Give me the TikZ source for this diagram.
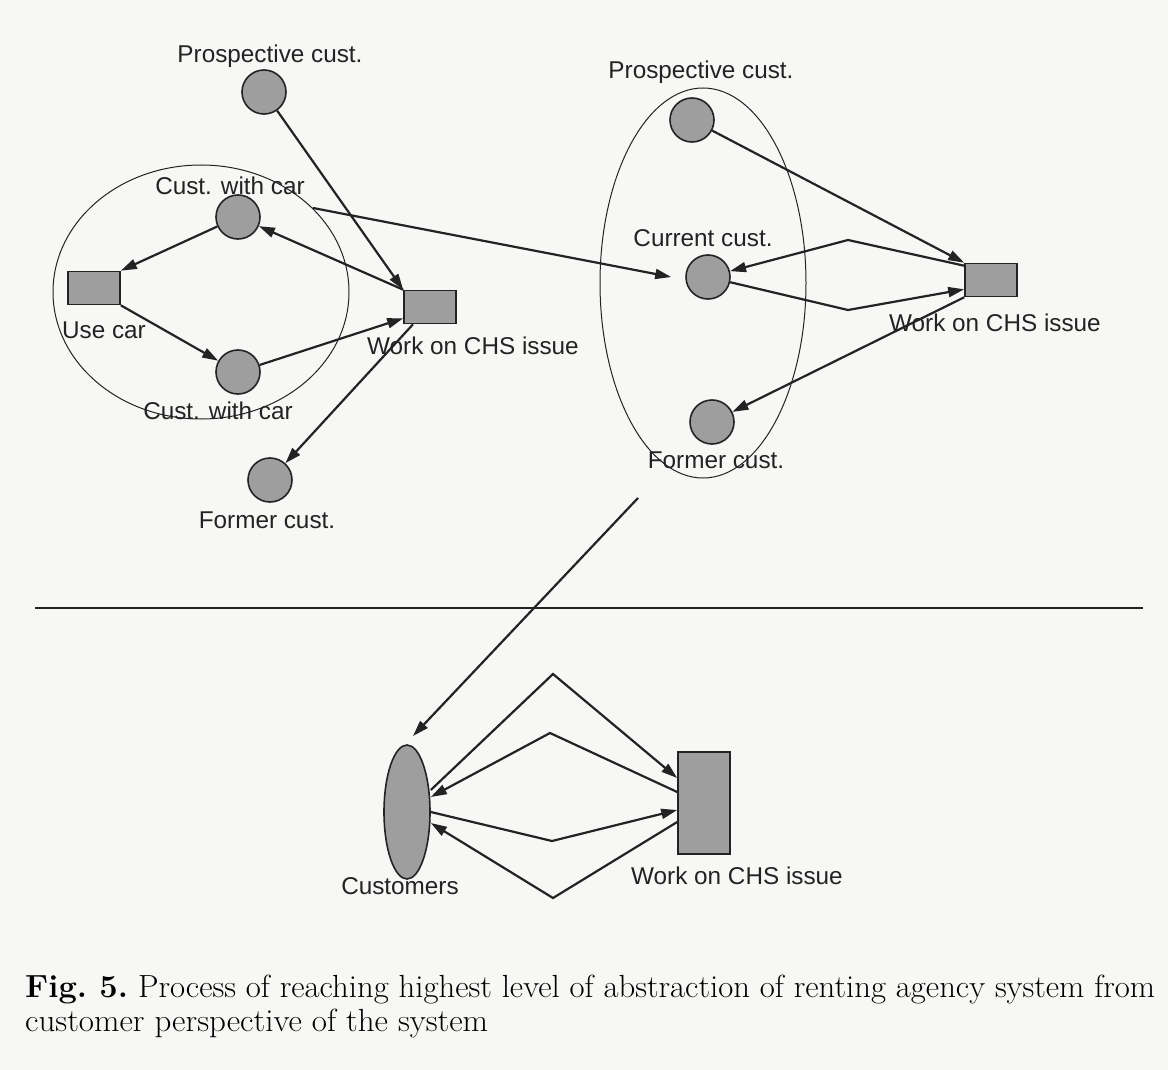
\documentclass[tikz,border=0pt]{standalone}
\usepackage{fontspec}
\newfontfamily\labfont{Liberation Sans}
\usetikzlibrary{arrows.meta,shapes.geometric}
\definecolor{paper}{RGB}{247,247,245}
\definecolor{fillg}{RGB}{158,158,158}
\definecolor{ink}{RGB}{35,35,35}
\tikzset{
  place/.style={circle,draw=ink,line width=1.6pt,fill=fillg,minimum size=44pt,inner sep=0pt},
  trans/.style={rectangle,draw=ink,line width=1.6pt,fill=fillg,minimum width=52pt,minimum height=33pt,inner sep=0pt},
  group/.style={ellipse,draw=ink,line width=1pt,inner sep=0pt},
  arc/.style={draw=ink,line width=2.2pt,-{Triangle[length=16pt,width=10pt]}},
  lab/.style={font=\labfont\fontsize{24.3}{27}\selectfont,text=ink,anchor=base,inner sep=0pt},
}
\begin{document}
\begin{tikzpicture}[x=1pt,y=-1pt]
\fill[paper] (0,0) rectangle (1168,1070);
\useasboundingbox (0,0) rectangle (1168,1070);
% groups
\node[group,minimum width=296pt,minimum height=254pt] (lg) at (201,292) {};
\node[group,minimum width=206pt,minimum height=390pt] (rg) at (703,283) {};
% left graph
\node[place] (lp) at (264,92) {};
\node[place] (lc1) at (238,217) {};
\node[trans] (lu) at (94,288) {};
\node[place] (lc2) at (238,372) {};
\node[trans] (lw) at (430,307) {};
\node[place] (lf) at (270,480) {};
% right graph
\node[place] (rp) at (692,120) {};
\node[place] (rc) at (708,277) {};
\node[place] (rf) at (712,422) {};
\node[trans] (rw) at (991,280) {};
% bottom
\node[ellipse,draw=ink,line width=1.6pt,fill=fillg,minimum width=46pt,minimum height=134pt,inner sep=0pt] (bc) at (407,812) {};
\node[trans,minimum width=52pt,minimum height=102pt] (bw) at (704,803) {};
% left edges
\draw[arc] (lp) -- (lw.north west);
\draw[arc] (lc1) -- (lu.north east);
\draw[arc] (lw.north west) -- (lc1);
\draw[arc] (lu.south east) -- (lc2);
\draw[arc] (lc2) -- ([yshift=6pt]lw.south west);
\draw[arc] ([xshift=-17pt]lw.south) -- (lf);
\draw[arc] (lg.37) -- ([xshift=-14pt]rc.west);
% right edges
\draw[arc] (rp) -- (rw.north west);
\draw[arc] ([yshift=-3pt]rw.north west) -- (848,240) -- (rc);
\draw[arc] (rc) -- (848,310) -- ([yshift=8pt]rw.south west);
\draw[arc] (rw.south west) -- (rf);
\coordinate (down) at (638,498);
\coordinate (downend) at (413,736);
\draw[arc] (down) -- (downend);
% divider
\draw[ink,line width=1.4pt] (35,608) -- (1143,608);
% bottom edges
\draw[arc] ([yshift=22pt]bc.east) -- (553,674) -- ([yshift=25pt]bw.west);
\draw[arc] ([yshift=11pt]bw.west) -- (550,733) -- ([yshift=15pt]bc.east);
\draw[arc] (bc.east) -- (552,841) -- ([yshift=-7pt]bw.west);
\draw[arc] ([yshift=-19pt]bw.west) -- (553,898) -- ([yshift=-11pt]bc.east);
% labels
\node[lab] (t1) at (270,63) {Prospective cust.};
\node[lab] (t2) at (230,194) {Cust. with car};
\node[lab] (t3) at (104,338) {Use car};
\node[lab] (t4) at (218,419) {Cust. with car};
\node[lab] (t5) at (473,354) {Work on CHS issue};
\node[lab] (t6) at (267,528) {Former cust.};
\node[lab] (t7) at (701,79) {Prospective cust.};
\node[lab] (t8) at (703,246) {Current cust.};
\node[lab] (t9) at (995,331) {Work on CHS issue};
\node[lab] (t10) at (716,468) {Former cust.};
\node[lab] (t11) at (400,894) {Customers};
\node[lab] (t12) at (737,884) {Work on CHS issue};
% caption
\node[anchor=base west,inner sep=0pt,font=\fontsize{32}{38}\selectfont] (cap1) at (25,997) {\resizebox{1130pt}{\height}{\textbf{Fig.\ 5.}\ Process of reaching highest level of abstraction of renting agency system from}};
\node[anchor=base west,inner sep=0pt,font=\fontsize{32}{38}\selectfont] (cap2) at (25,1031) {\resizebox{463pt}{\height}{customer perspective of the system}};
\end{tikzpicture}
\end{document}
